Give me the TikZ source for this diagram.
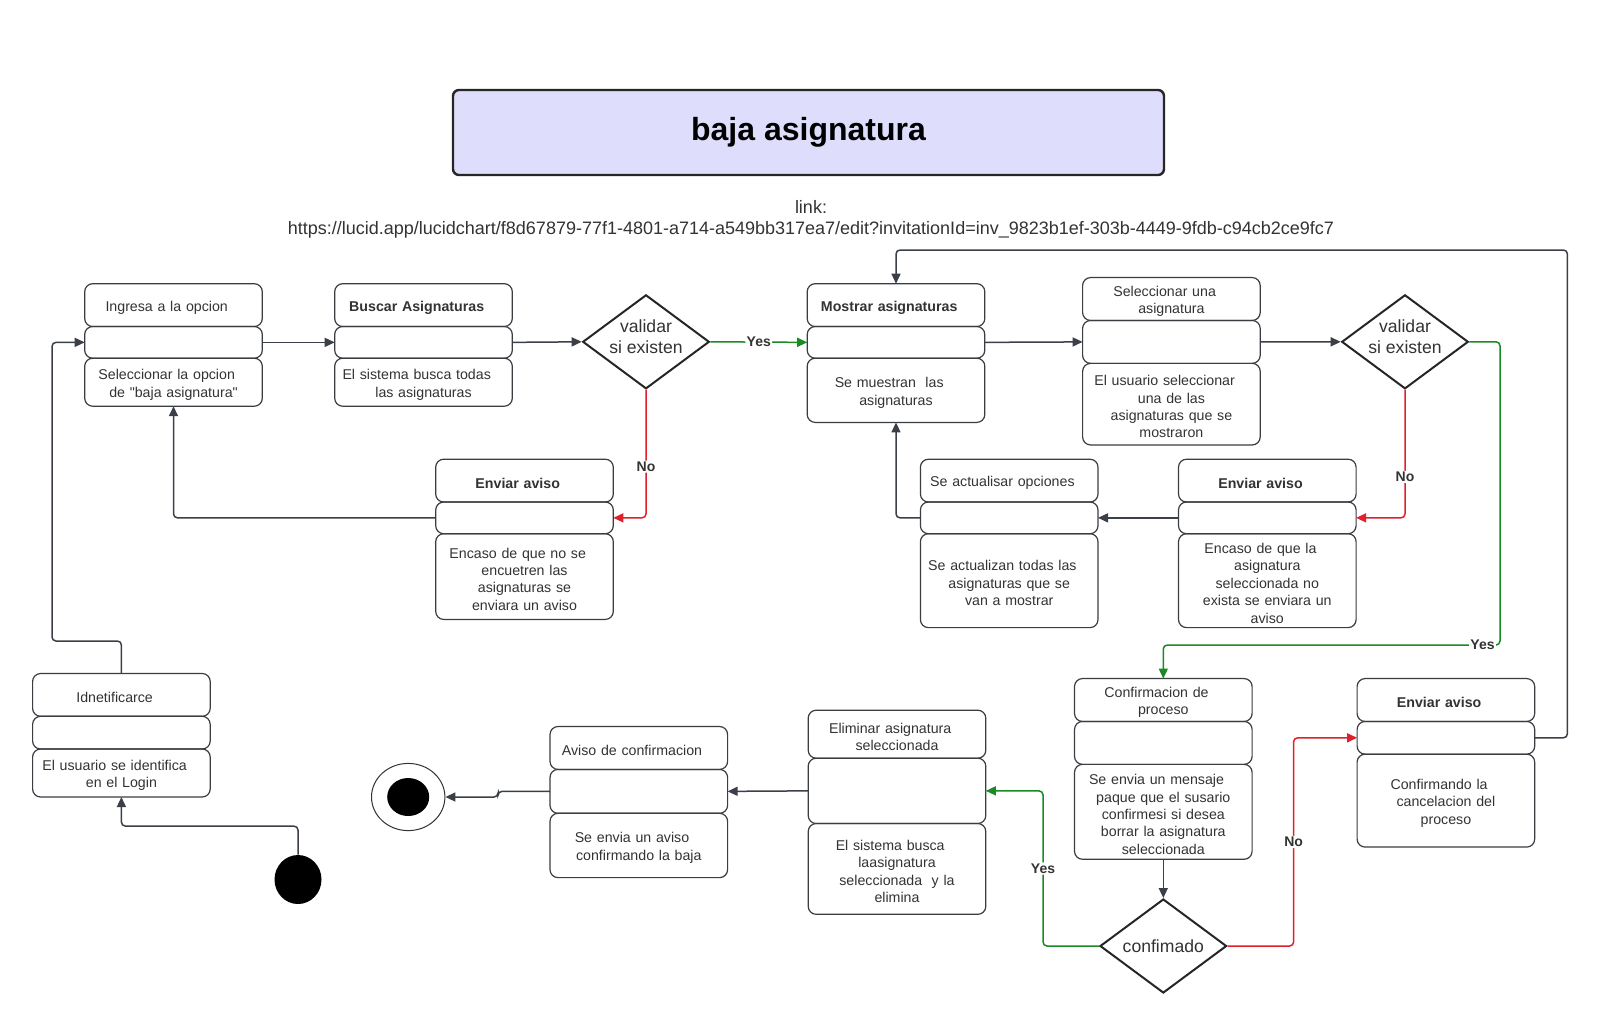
\documentclass[tikz,border=0pt]{standalone}
\usepackage{fontspec}
\setmainfont{Liberation Sans}
\usepackage{tikz}
\usetikzlibrary{positioning,shapes.geometric,arrows.meta}
\definecolor{linec}{HTML}{3B4048}
\definecolor{boxc}{HTML}{3A3D42}
\definecolor{txtc}{HTML}{333333}
\definecolor{yesc}{HTML}{1A8A24}
\definecolor{noc}{HTML}{E0202A}
\definecolor{titlec}{HTML}{DEDEFC}
\tikzset{
  comp/.style={draw=boxc, line width=0.6pt, rounded corners=4pt, outer sep=0pt, inner sep=1pt,
    minimum width=88.8pt, text width=86.8pt, align=center, text=txtc, font=\fontsize{7.1pt}{8.7pt}\selectfont,
    execute at begin node={\rule{0pt}{7.7pt}\hspace*{-6.8pt}}},
  head/.style={comp, font=\fontsize{7.1pt}{8.7pt}\selectfont\bfseries},
  dec/.style={diamond, aspect=1.35, draw=black!85, line width=1pt, inner sep=0pt, minimum width=63.3pt,
    minimum height=47pt, align=center, text=txtc, font=\fontsize{8.8pt}{10.7pt}\selectfont},
  conn/.style={draw=linec, line width=0.75pt, rounded corners=2pt, -{Triangle[length=5pt,width=4.5pt]}},
  yesline/.style={conn, draw=yesc},
  noline/.style={conn, draw=noc},
  lbl/.style={fill=white, inner sep=0.6pt, text=txtc, font=\fontsize{7pt}{8pt}\selectfont\bfseries},
}

\begin{document}
\begin{tikzpicture}[x=0.5pt,y=-0.5pt]
  \useasboundingbox (0,0) rectangle (1600,1030);
  \fill[white] (0,0) rectangle (1600,1030);

  \node[draw=black!85, fill=titlec, line width=1.2pt, rounded corners=3pt, minimum width=355.5pt,
    minimum height=42.5pt, font=\fontsize{16pt}{19pt}\selectfont\bfseries] (title) at (808.5,132.5) {baja asignatura};
  \node[text=txtc, align=center, font=\fontsize{9pt}{10.7pt}\selectfont] (link) at (811,219.5)
    {link:\\https://lucid.app/lucidchart/f8d67879-77f1-4801-a714-a549bb317ea7/edit?invitationId=inv\_9823b1ef-303b-4449-9fdb-c94cb2ce9fc7};

  \node[comp, minimum height=21.4pt] (b1T) at (173.5,305.1) {Ingresa a la opcion};
  \node[comp, minimum height=15.85pt, below=0pt of b1T] (b1M) {};
  \node[comp, minimum height=24pt, below=0pt of b1M] (b1B) {Seleccionar la opcion\\de \textquotedbl baja asignatura\textquotedbl};

  \node[head, minimum height=21.4pt] (b2T) at (423.5,305.1) {Buscar Asignaturas};
  \node[comp, minimum height=15.85pt, below=0pt of b2T] (b2M) {};
  \node[comp, minimum height=24pt, below=0pt of b2M] (b2B) {El sistema busca todas\\las asignaturas};

  \node[dec, text height=14.6pt, text depth=2.5pt] (d1) at (646,341.8) {validar\\si existen};

  \node[head, minimum height=21.4pt] (b3T) at (896,305.1) {Mostrar asignaturas};
  \node[comp, minimum height=15.85pt, below=0pt of b3T] (b3M) {};
  \node[comp, minimum height=32.1pt, below=0pt of b3M] (b3B) {Se muestran\ \ las\\asignaturas};

  \node[comp, minimum height=21.45pt] (b4T) at (1171.4,299) {Seleccionar una\\asignatura};
  \node[comp, minimum height=21.45pt, below=0pt of b4T] (b4M) {};
  \node[comp, minimum height=40.8pt, below=0pt of b4M] (b4B) {El usuario seleccionar\\una de las\\asignaturas que se\\mostraron};

  \node[dec, text height=14.6pt, text depth=2.5pt] (d2) at (1405,341.8) {validar\\si existen};

  \node[head, minimum height=21.4pt] (b5T) at (524.5,480.6) {Enviar aviso};
  \node[comp, minimum height=15.85pt, below=0pt of b5T] (b5M) {};
  \node[comp, minimum height=42.85pt, below=0pt of b5M] (b5B) {Encaso de que no se\\encuetren las\\asignaturas se\\enviara un aviso};

  \node[comp, minimum height=21.4pt] (b6T) at (1009.2,480.6) {Se actualisar opciones};
  \node[comp, minimum height=15.85pt, below=0pt of b6T] (b6M) {};
  \node[comp, minimum height=46.95pt, below=0pt of b6M] (b6B) {Se actualizan todas las\\asignaturas que se\\van a mostrar};

  \node[head, minimum height=21.4pt] (b7T) at (1267.3,480.6) {Enviar aviso};
  \node[comp, minimum height=15.85pt, below=0pt of b7T] (b7M) {};
  \node[comp, minimum height=46.95pt, below=0pt of b7M] (b7B) {Encaso de que la\\asignatura\\seleccionada no\\exista se enviara un\\aviso};

  \node[comp, minimum height=21.4pt] (b8T) at (121.4,694.9) {Idnetificarce};
  \node[comp, minimum height=16.35pt, below=0pt of b8T] (b8M) {};
  \node[comp, minimum height=24pt, below=0pt of b8M] (b8B) {El usuario se identifica\\en el Login};

  \node[comp, minimum height=21.45pt] (b9T) at (638.8,747.95) {Aviso de confirmacion};
  \node[comp, minimum height=21.95pt, below=0pt of b9T] (b9M) {};
  \node[comp, minimum height=32.15pt, below=0pt of b9M] (b9B) {Se envia un aviso\\confirmando la baja};

  \node[comp, minimum height=24pt] (b10T) at (897,734.2) {Eliminar asignatura\\seleccionada};
  \node[comp, minimum height=32.65pt, below=0pt of b10T] (b10M) {};
  \node[comp, minimum height=45.4pt, below=0pt of b10M] (b10B) {El sistema busca\\laasignatura\\seleccionada\ \ y la\\elimina};

  \node[comp, minimum height=21.45pt] (b11T) at (1163.3,700) {Confirmacion de\\proceso};
  \node[comp, minimum height=21.45pt, below=0pt of b11T] (b11M) {};
  \node[comp, minimum height=47.45pt, below=0pt of b11M] (b11B) {Se envia un mensaje\\paque que el susario\\confirmesi si desea\\borrar la asignatura\\seleccionada};

  \node[head, minimum height=21.45pt] (b12T) at (1445.9,700) {Enviar aviso};
  \node[comp, minimum height=16.35pt, below=0pt of b12T] (b12M) {};
  \node[comp, minimum height=46.45pt, below=0pt of b12M] (b12B) {Confirmando la\\cancelacion del\\proceso};

  \node[dec] (d3) at (1163.3,946) {confimado};

  \node[ellipse, fill=black, inner sep=0pt, minimum width=23.5pt, minimum height=24.5pt] (ini) at (298,879.5) {};
  \node[ellipse, draw=black!80, line width=0.5pt, inner sep=0pt, minimum width=36.7pt, minimum height=33.6pt] (fin) at (408.2,797) {};
  \node[ellipse, fill=black, inner sep=0pt, minimum width=21pt, minimum height=19pt] (finDot) at (fin) {};

  \coordinate (yesR) at (1500,645);
  \coordinate (topR) at (1567.4,250);
  \coordinate (loginL) at (52,641);

  \draw[conn] (b1M.east) -- (b2M.west);
  \draw[conn] (b2M.east) -- (d1.west);
  \draw[yesline] (d1.east) -- node[lbl]{Yes} (b3M.west);
  \draw[noline] (d1.south) |- node[lbl,pos=0.3]{No} (b5M.east);
  \draw[conn] (b5M.west) -| (b1B.south);
  \draw[conn] (b3M.east) -- (b4M.west);
  \draw[conn] (b4M.east) -- (d2.west);
  \draw[noline] (d2.south) |- node[lbl,pos=0.34]{No} (b7M.east);
  \draw[conn] (b7M.west) -- (b6M.east);
  \draw[conn] (b6M.west) -| (b3B.south);
  \draw[yesline] (d2.east) -| (yesR) -| node[lbl,pos=0.026]{Yes} (b11T.north);
  \draw[conn] (b11B.south) -- (d3.north);
  \draw[yesline] (d3.west) -- ++(-56,0) |- node[lbl,pos=0.25]{Yes} (b10M.east);
  \draw[noline] (d3.east) -- ++(66,0) |- node[lbl,pos=0.25]{No} (b12M.west);
  \draw[conn] (b12M.east) -| (topR) -| (b3T.north);
  \draw[conn] (b10M.west) -- (b9M.east);
  \draw[conn] (b9M.west) -- ++(-52,0) |- (fin.east);
  \draw[conn] (ini.north) -- ++(0,-28.5) -| (b8B.south);
  \draw[conn] (b8T.north) |- (loginL) |- (b1M.west);
\end{tikzpicture}
\end{document}
